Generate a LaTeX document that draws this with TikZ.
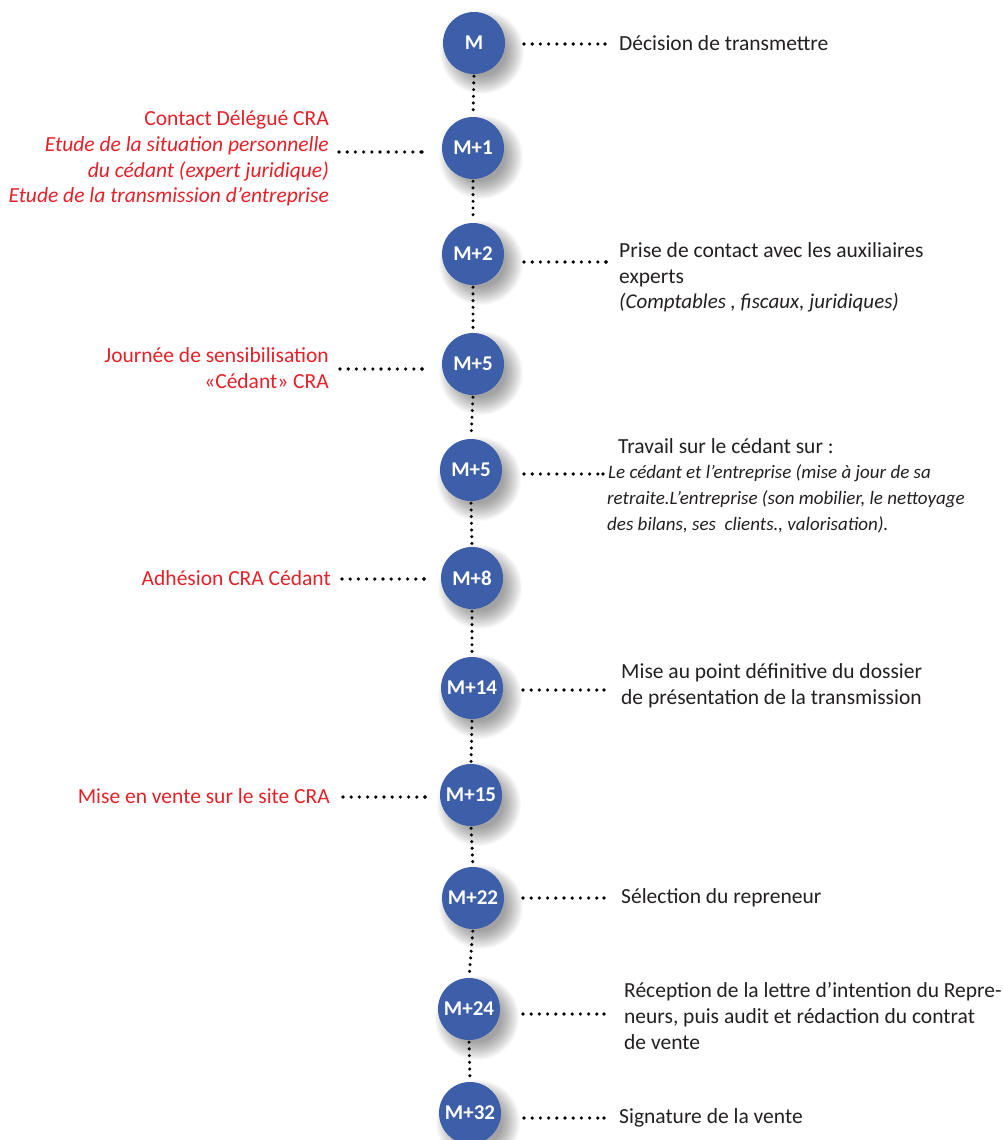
\documentclass[tikz,border=0pt]{standalone}
\usepackage{fontspec}
\setmainfont{Carlito}
\definecolor{cblue}{RGB}{61,94,168}
\definecolor{cred}{RGB}{228,32,40}
\definecolor{tgray}{RGB}{35,31,32}
\begin{document}
\begin{tikzpicture}[x=1pt,y=-1pt,
  circ/.style={circle,fill=cblue,minimum size=62pt,inner sep=0pt,text=white,font=\fontsize{21}{24}\selectfont\bfseries},
  rtxt/.style={anchor=base west,inner sep=0pt,text=tgray,font=\fontsize{21.5}{26}\selectfont},
  rit/.style={anchor=base west,inner sep=0pt,text=tgray,font=\fontsize{19}{26}\selectfont\itshape},
  ltxt/.style={anchor=base east,inner sep=0pt,text=cred,font=\fontsize{21.5}{26}\selectfont},
  lit/.style={anchor=base east,inner sep=0pt,text=cred,font=\fontsize{21.5}{26}\selectfont\itshape},
  vdots/.style={line width=3.4pt,line cap=round,dash pattern=on 0pt off 6.7pt,shorten <=2pt,shorten >=2pt},
  hdots/.style={line width=3.6pt,line cap=round,dash pattern=on 0pt off 8.2pt},
  dotend/.style={circle,fill=black,inner sep=0pt,minimum size=3.6pt},
]
\useasboundingbox (0,0) rectangle (1002,1140);
% shadows
\foreach \x/\y in {474/43,473/148,473/254,473/364,471/470,472/578,472/688,471/795,473/898,469/1009,470/1113}{
  \foreach \r in {24,...,42}{
    \fill[black,opacity=0.024] (\x+8,\y+9) circle[radius=\r pt];
  }
}
% circles
\node[circ] (c0) at (474,43) {M};
\node[circ] (c1) at (473,148) {M+1};
\node[circ] (c2) at (473,254) {M+2};
\node[circ] (c3) at (473,364) {M+5};
\node[circ] (c4) at (471,470) {M+5};
\node[circ] (c5) at (472,578) {M+8};
\node[circ] (c6) at (472,688) {M+14};
\node[circ] (c7) at (471,795) {M+15};
\node[circ] (c8) at (473,898) {M+22};
\node[circ] (c9) at (469,1009) {M+24};
\node[circ] (c10) at (470,1113) {M+32};
% vertical dotted line
\foreach \a/\b in {c0/c1,c1/c2,c2/c3,c3/c4,c4/c5,c5/c6,c6/c7,c7/c8,c8/c9,c9/c10}{
  \draw[vdots] (\a.south) -- (\b.north);
}
% right texts
\node[rtxt] (t0) at (619,51) {Décision de transmettre};
\node[rtxt] (t2a) at (619,257) {Prise de contact avec les auxiliaires};
\node[rtxt] (t2b) at (619,283) {experts};
\node[rit,font=\fontsize{21}{26}\selectfont\itshape] (t2c) at (619,308) {(Comptables , fiscaux, juridiques)};
\node[rtxt] (t4a) at (618,453) {Travail sur le cédant sur :};
\node[rit] (t4b) at (608,478) {Le cédant et l’entreprise (mise à jour de sa};
\node[rit] (t4c) at (607,504) {retraite.L’entreprise (son mobilier, le nettoyage};
\node[rit] (t4d) at (607,530) {des bilans, ses~ clients., valorisation).};
\node[rtxt] (t6a) at (621,678) {Mise au point définitive du dossier};
\node[rtxt] (t6b) at (621,704) {de présentation de la transmission};
\node[rtxt] (t8) at (621,903) {Sélection du repreneur};
\node[rtxt] (t9a) at (624,997) {Réception de la lettre d’intention du Repre-};
\node[rtxt] (t9b) at (624,1023) {neurs, puis audit et rédaction du contrat};
\node[rtxt] (t9c) at (624,1049) {de vente};
\node[rtxt] (t10) at (619,1123) {Signature de la vente};
% left texts
\node[ltxt] (t1a) at (329,125) {Contact Délégué CRA};
\node[lit] (t1b) at (329,151) {Etude de la situation personnelle};
\node[lit] (t1c) at (329,177) {du cédant (expert juridique)};
\node[lit] (t1d) at (329,202) {Etude de la transmission d’entreprise};
\node[ltxt] (t3a) at (329,362) {Journée de sensibilisation};
\node[ltxt] (t3b) at (329,388) {«Cédant» CRA};
\node[ltxt] (t5) at (331,585) {Adhésion CRA Cédant};
\node[ltxt] (t7) at (330,803) {Mise en vente sur le site CRA};
% horizontal connectors
\foreach \i/\xa/\xb/\y in {0/524/605/44, 1/339/422/152, 2/524/606/262, 3/340/422/369, 4/524/603/474, 5/342/424/579, 6/523/604/690, 7/343/425/797, 8/523/604/898, 9/523/604/1014, 10/524/604/1118}{
  \coordinate (ha\i) at (\xa,\y);
  \coordinate (hb\i) at (\xb,\y);
  \draw[hdots] (ha\i) -- (hb\i) node[dotend] {};
}
\end{tikzpicture}
\end{document}
